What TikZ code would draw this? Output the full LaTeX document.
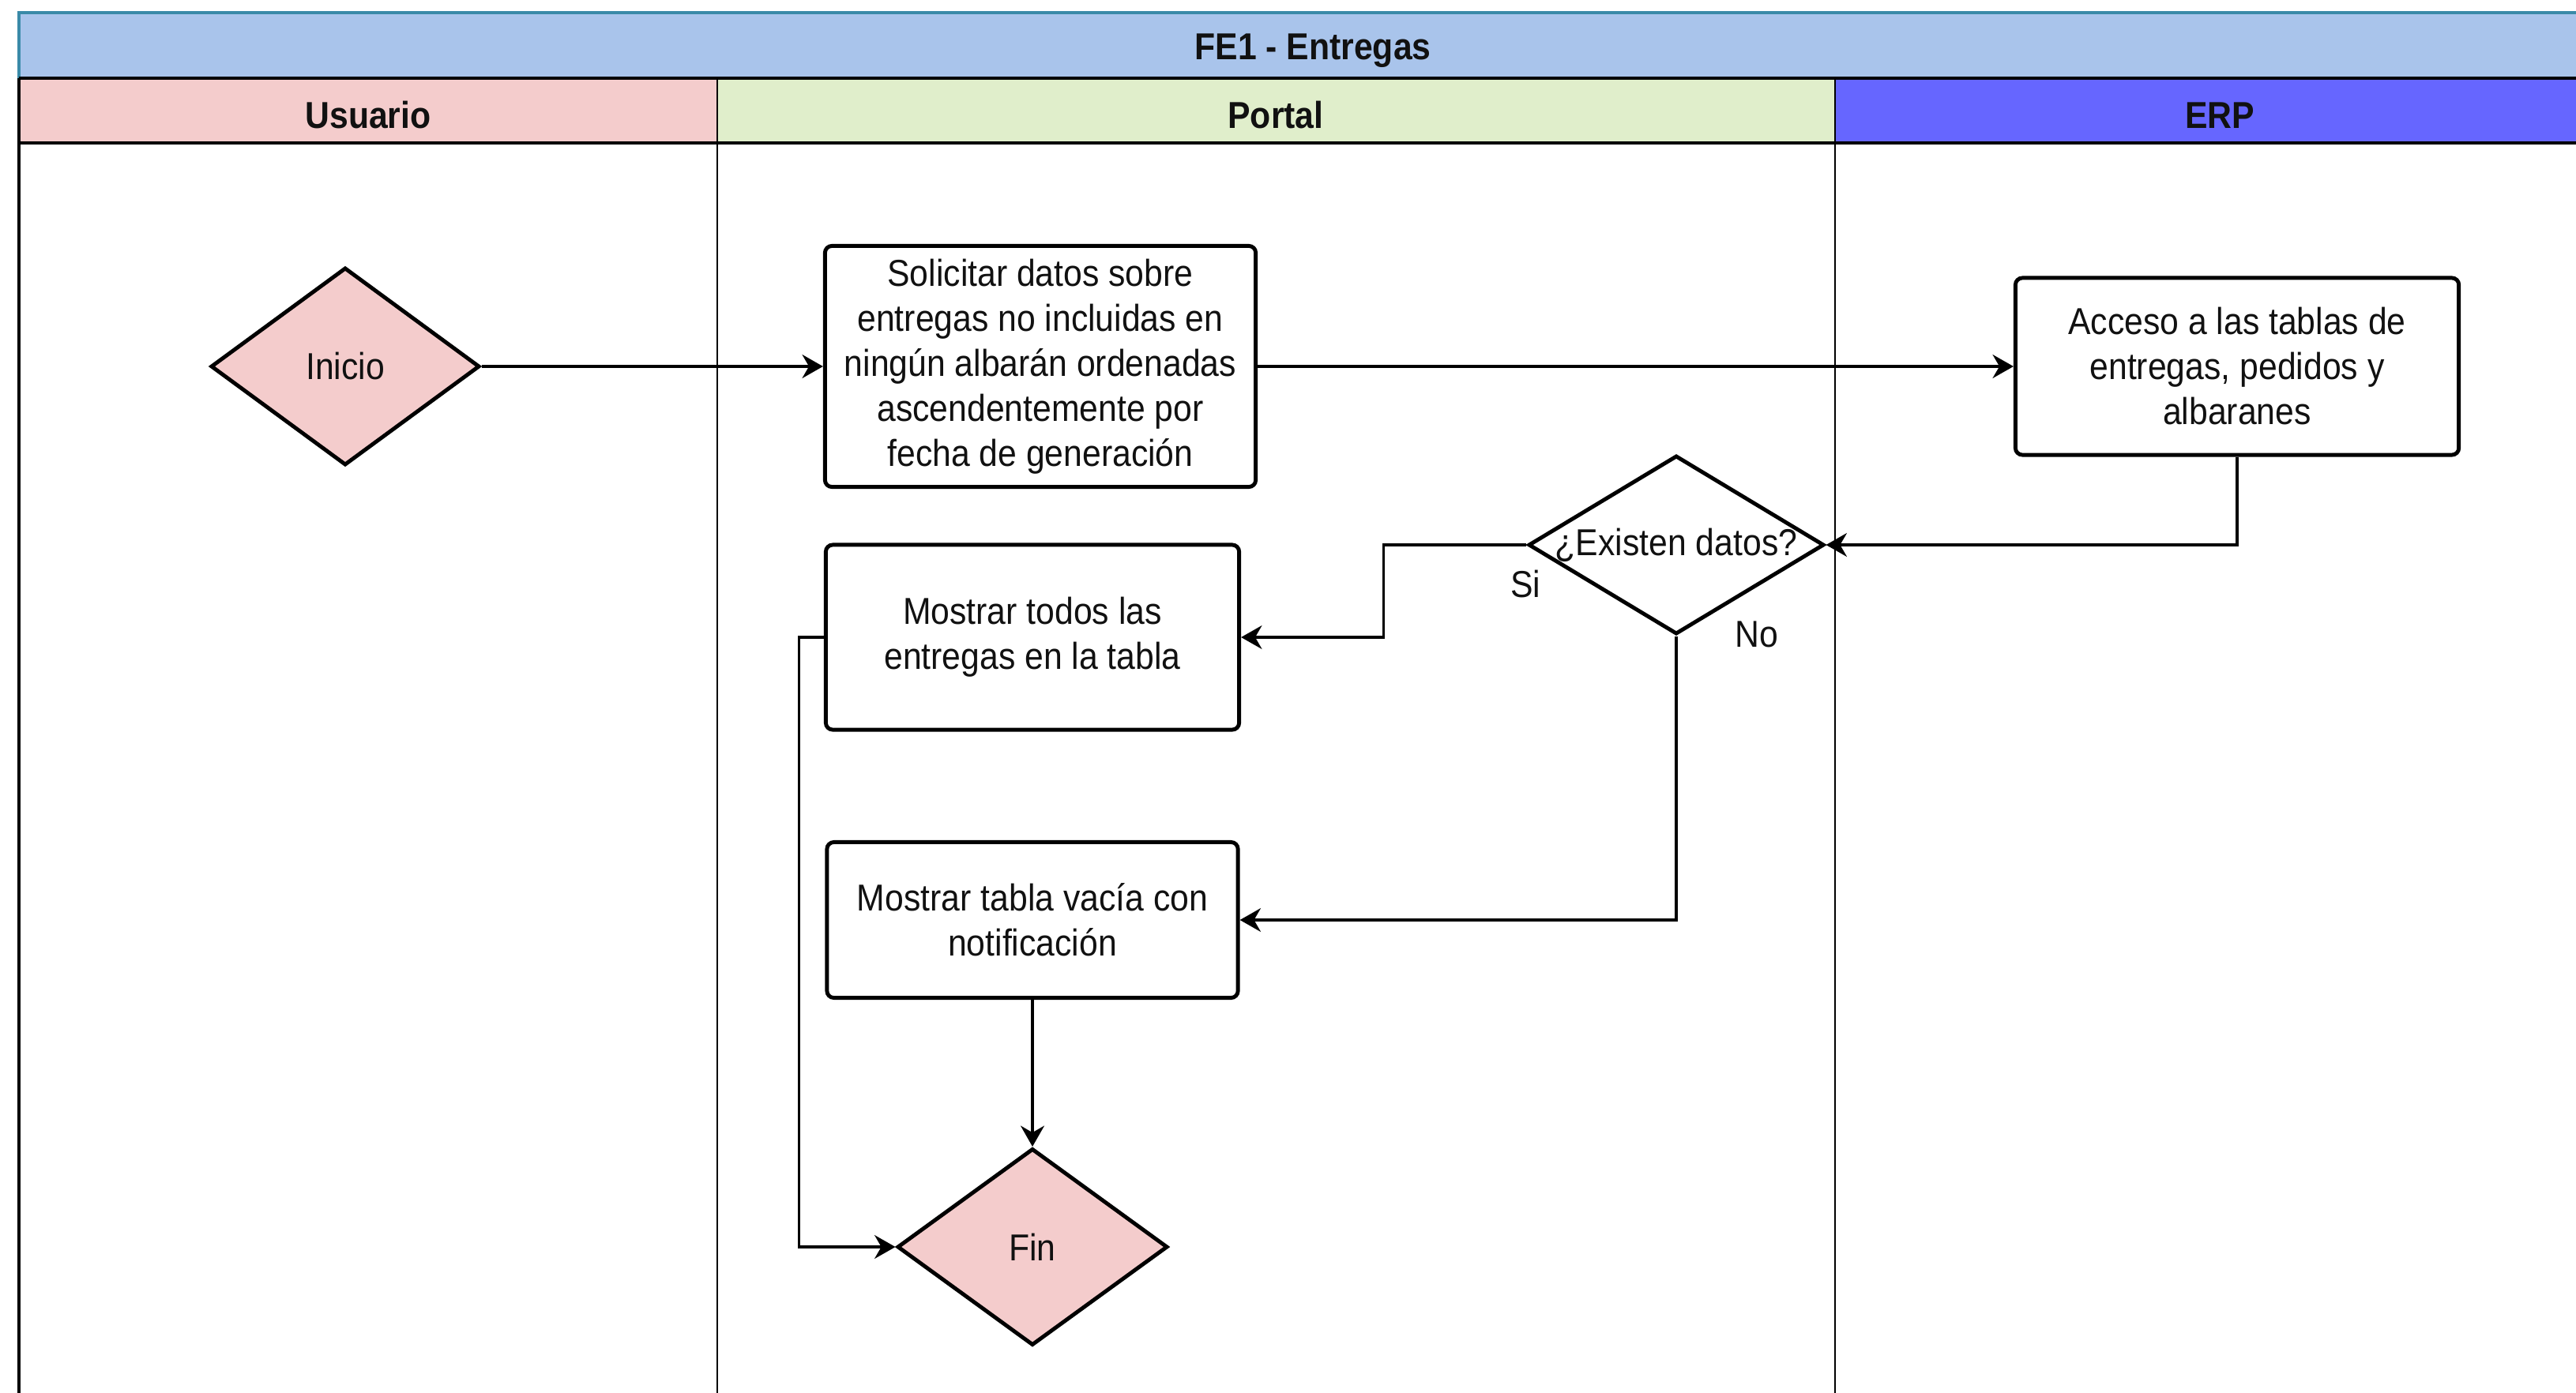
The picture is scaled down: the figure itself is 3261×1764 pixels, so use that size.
\documentclass[tikz,border=0pt]{standalone}
\usepackage{fontspec}
\setmainfont{Liberation Sans}[FakeStretch=0.9]
\usetikzlibrary{shapes.geometric,arrows.meta}
\definecolor{titlefill}{HTML}{A9C4EB}
\definecolor{titleline}{HTML}{3A8AA8}
\definecolor{userfill}{HTML}{F4CCCC}
\definecolor{portalfill}{HTML}{E0EECB}
\definecolor{erpfill}{HTML}{6666FF}
\definecolor{inkc}{HTML}{111111}
\begin{document}
\begin{tikzpicture}[x=0.01cm,y=-0.01cm,
  txt/.style={font=\fontsize{13.5}{16.2}\selectfont, text=inkc},
  hdr/.style={font=\fontsize{13.5}{16.2}\selectfont\bfseries, text=inkc},
  procbox/.style={draw=black, line width=1.4pt, rounded corners=2.5pt, fill=white, align=center, txt, inner sep=2pt},
  decision/.style={diamond, draw=black, line width=1.4pt, inner sep=0pt},
  conn/.style={draw=black, line width=0.9pt, -{Stealth[length=7.5pt,width=8.5pt]}},
  lane/.style={draw=black, line width=0.6pt},
  hline/.style={draw=black, line width=1pt}]
\useasboundingbox (0,0) rectangle (3261,1764);
\clip (0,0) rectangle (3261,1764);
\fill[white] (0,0) rectangle (3261,1764);
% title band
\fill[titlefill] (24,16) rectangle (3300,99);
\draw[titleline, line width=1pt] (24,99) -- (24,16) -- (3300,16);
% lane headers
\fill[userfill] (24,99) rectangle (908,181);
\fill[portalfill] (908,99) rectangle (2323,181);
\fill[erpfill] (2323,99) rectangle (3300,181);
\draw[hline] (24,99) -- (3300,99);
\draw[hline] (24,181) -- (3300,181);
\draw[hline] (24,99) -- (24,1800);
\draw[lane] (908,99) -- (908,1800);
\draw[lane] (2323,99) -- (2323,1800);
\node[hdr] (title) at (1662,64) {FE1 - Entregas};
\node[hdr] (husuario) at (466,146) {Usuario};
\node[hdr] (hportal) at (1615,146) {Portal};
\node[hdr] (herp) at (2810,146) {ERP};
% nodes
\node[decision, fill=userfill, minimum width=3.4cm, minimum height=2.5cm,
      label={[txt]center:Inicio}] (inicio) at (437,464) {};
\node[procbox, minimum width=5.45cm, minimum height=3.05cm] (solicitar) at (1317,464)
  {Solicitar datos sobre\\entregas no incluidas en\\ningún albarán ordenadas\\ascendentemente por\\fecha de generación};
\node[procbox, minimum width=5.61cm, minimum height=2.24cm] (acceso) at (2832,464)
  {Acceso a las tablas de\\entregas, pedidos y\\albaranes};
\node[decision, fill=white, minimum width=3.74cm, minimum height=2.26cm,
      label={[txt]center:¿Existen datos?}] (existen) at (2122,690) {};
\node[procbox, minimum width=5.23cm, minimum height=2.34cm] (todos) at (1307,807)
  {Mostrar todos las\\entregas en la tabla};
\node[procbox, minimum width=5.2cm, minimum height=1.97cm] (vacia) at (1307,1165)
  {Mostrar tabla vacía con\\notificación};
\node[decision, fill=userfill, minimum width=3.42cm, minimum height=2.49cm,
      label={[txt]center:Fin}] (fin) at (1307,1579) {};
% labels
\node[txt] (si) at (1931,740) {Si};
\node[txt] (no) at (2224,803) {No};
% connectors
\draw[conn] (inicio.east) -- (solicitar.west);
\draw[conn] (solicitar.east) -- (acceso.west);
\draw[conn] (acceso.south) |- (existen.east);
\draw[conn] (existen.west) -- ++(-181,0) |- (todos.east);
\draw[conn] (existen.south) |- (vacia.east);
\draw[conn] (todos.west) -- ++(-31,0) |- (fin.west);
\draw[conn] (vacia.south) -- (fin.north);
\end{tikzpicture}
\end{document}
